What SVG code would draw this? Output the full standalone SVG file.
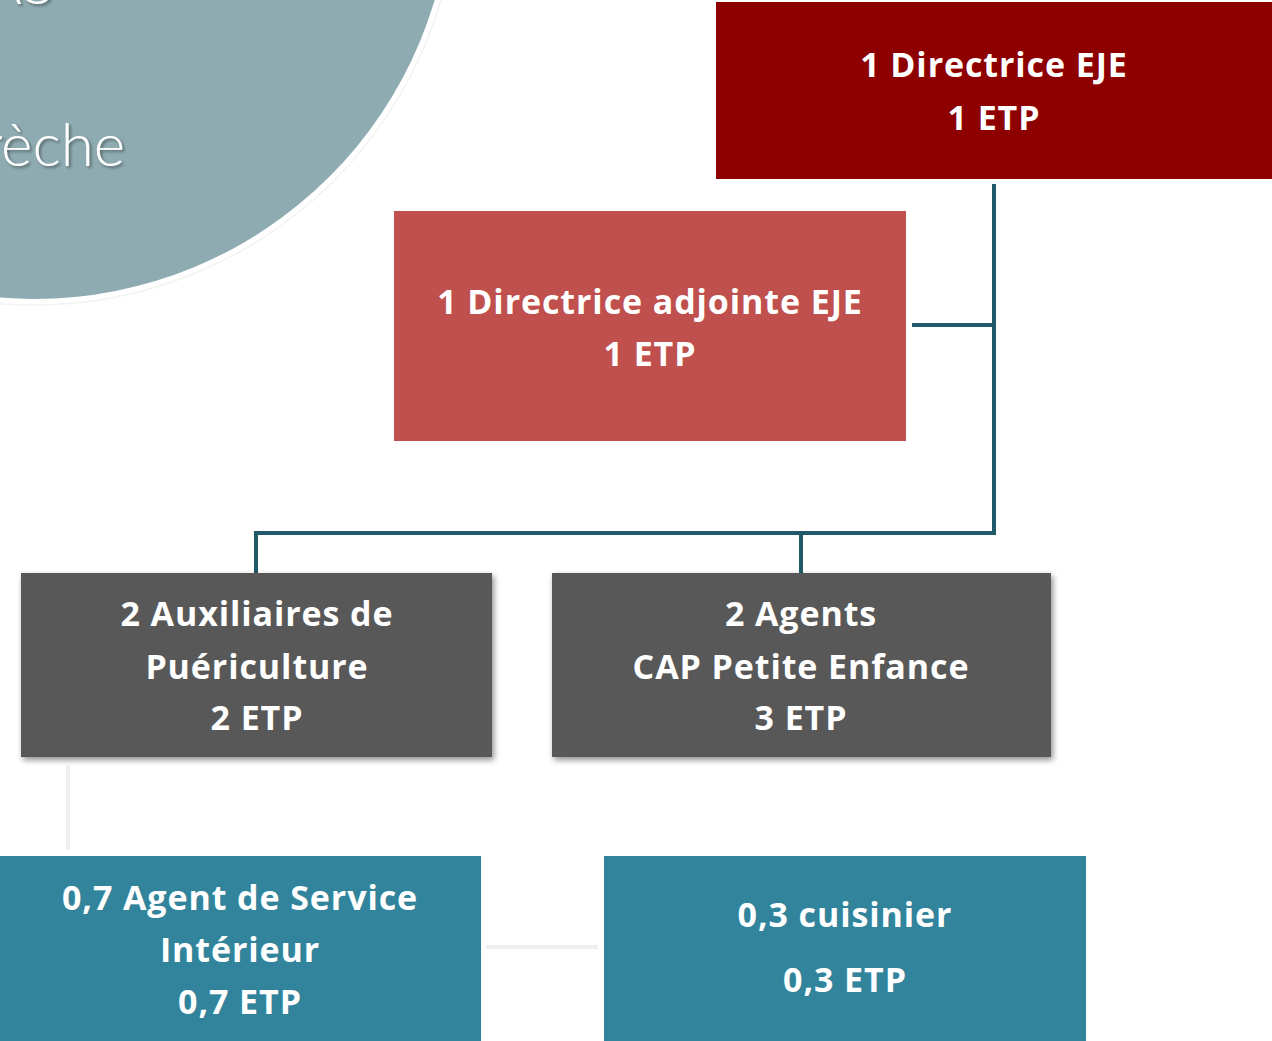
<svg xmlns="http://www.w3.org/2000/svg" width="1272" height="1041" viewBox="0 0 1272 1041">
<style>
  .t { font-family: "Open Sans", Lato, "Liberation Sans", sans-serif; font-weight: 700; font-size: 34px; letter-spacing: 0.9px; fill: #ffffff; text-anchor: middle; }
  .title { font-family: Lato, "Liberation Sans", sans-serif; font-weight: 300; font-size: 60px; fill: #ffffff; text-anchor: end; }
  .conn { stroke: #215968; stroke-width: 4; fill: none; }
  .faint { stroke: #f0f0f0; stroke-width: 4; fill: none; }
</style>
<defs>
  <filter id="sh" x="-5%" y="-10%" width="110%" height="130%">
    <feGaussianBlur in="SourceAlpha" stdDeviation="3"/>
    <feOffset dx="2" dy="3" result="b"/>
    <feComponentTransfer><feFuncA type="linear" slope="0.45"/></feComponentTransfer>
    <feMerge><feMergeNode/><feMergeNode in="SourceGraphic"/></feMerge>
  </filter>
  <filter id="tsh" x="-10%" y="-10%" width="120%" height="130%">
    <feGaussianBlur in="SourceAlpha" stdDeviation="1.5"/>
    <feOffset dx="2" dy="2"/>
    <feComponentTransfer><feFuncA type="linear" slope="0.4"/></feComponentTransfer>
    <feMerge><feMergeNode/><feMergeNode in="SourceGraphic"/></feMerge>
  </filter>
</defs>
<rect width="1272" height="1041" fill="#ffffff"/>
<g id="background">
  <circle cx="34" cy="-119" r="424" fill="none" stroke="#f3f3f3" stroke-width="1.5"/>
  <circle cx="34" cy="-119" r="418" fill="#8eabb1"/>
  <g filter="url(#tsh)">
    <text class="title" x="54" y="4">AS</text>
    <text class="title" x="125" y="166">Crèche</text>
  </g>
</g>
<g id="connectors">
  <polyline class="conn" points="994,184 994,533 256,533 256,573"/>
  <line class="conn" x1="912" y1="325" x2="994" y2="325"/>
  <line class="conn" x1="801" y1="533" x2="801" y2="573"/>
  <line class="faint" x1="68" y1="765" x2="68" y2="850"/>
  <line class="faint" x1="486" y1="947" x2="598" y2="947" stroke-width="5"/>
</g>
<g id="directrice">
  <rect x="716" y="2" width="556" height="177" fill="#8e0000"/>
  <text class="t" x="994" y="77">1 Directrice EJE</text>
  <text class="t" x="994" y="130">1 ETP</text>
</g>
<g id="adjointe">
  <rect x="394" y="211" width="512" height="230" fill="#c0504d"/>
  <text class="t" x="650" y="314">1 Directrice adjointe EJE</text>
  <text class="t" x="650" y="366">1 ETP</text>
</g>
<g id="auxiliaires">
  <rect x="21" y="573" width="471" height="184" fill="#595959" filter="url(#sh)"/>
  <text class="t" x="257" y="626">2 Auxiliaires de</text>
  <text class="t" x="257" y="679">Puériculture</text>
  <text class="t" x="257" y="730">2 ETP</text>
</g>
<g id="agents">
  <rect x="552" y="573" width="499" height="184" fill="#595959" filter="url(#sh)"/>
  <text class="t" x="801" y="626">2 Agents</text>
  <text class="t" x="801" y="679">CAP Petite Enfance</text>
  <text class="t" x="801" y="730">3 ETP</text>
</g>
<g id="asi">
  <rect x="0" y="856" width="481" height="185" fill="#31849b"/>
  <text class="t" x="240" y="910">0,7 Agent de Service</text>
  <text class="t" x="240" y="962">Intérieur</text>
  <text class="t" x="240" y="1014">0,7 ETP</text>
</g>
<g id="cuisinier">
  <rect x="604" y="856" width="482" height="185" fill="#31849b"/>
  <text class="t" x="845" y="927">0,3 cuisinier</text>
  <text class="t" x="845" y="992">0,3 ETP</text>
</g>
</svg>
